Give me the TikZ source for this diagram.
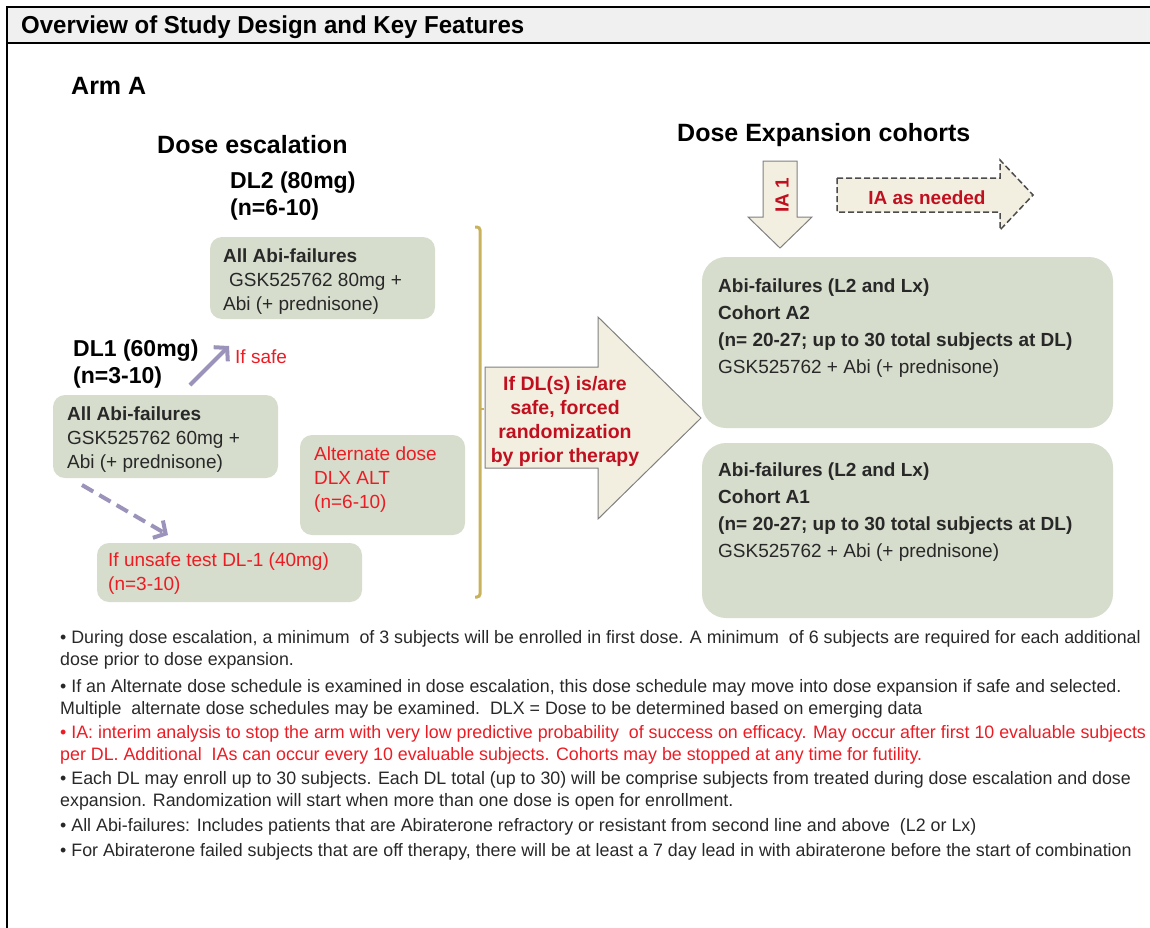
\documentclass[tikz,border=0pt]{standalone}
\usepackage{fontspec}
\setmainfont{Liberation Sans}
\newfontfamily\notefont{Liberation Sans}[FakeStretch=0.99]
\newfontfamily\titlefont{Liberation Sans}[FakeStretch=0.98]
\usetikzlibrary{arrows.meta}

\definecolor{boxgreen}{RGB}{214,221,204}
\definecolor{headgray}{RGB}{240,240,240}
\definecolor{brightred}{RGB}{235,28,36}
\definecolor{darkred}{RGB}{192,16,32}
\definecolor{arrowfill}{RGB}{243,239,224}
\definecolor{arrowline}{RGB}{128,128,128}
\definecolor{brace}{RGB}{200,178,92}
\definecolor{lilac}{RGB}{155,147,185}
\definecolor{bodytext}{RGB}{40,40,40}

\begin{document}
\begin{tikzpicture}[x=1pt,y=-1pt,
  box/.style={draw=none,fill=boxgreen,rounded corners=12pt,inner sep=0pt},
  cohort/.style={draw=none,fill=boxgreen,rounded corners=24pt,inner sep=0pt},
  txt/.style={anchor=west,inner sep=0pt,align=left,text=bodytext,font=\fontsize{19}{24}\selectfont},
  head/.style={anchor=west,inner sep=0pt,align=left,font=\fontsize{25}{30}\selectfont\bfseries},
  dl/.style={anchor=west,inner sep=0pt,align=left,font=\fontsize{23}{27}\selectfont\bfseries},
  blockarrow/.style={draw=arrowline,fill=arrowfill,line width=1pt},
  ialabel/.style={inner sep=0pt,text=darkred,font=\fontsize{19}{24}\selectfont\bfseries},
  escalate/.style={draw=lilac,line width=4pt,-{Straight Barb[length=9pt,width=20pt]}},
  note/.style={anchor=west,inner sep=0pt,align=left,text=bodytext,font=\notefont\fontsize{18}{22}\selectfont}
]
\useasboundingbox (0,0) rectangle (1150,927);

% frame and title bar
\draw[line width=2pt,fill=headgray] (7,7) rectangle (1153,43);
\draw[line width=2pt] (7,43) -- (7,930);
\node[anchor=west,inner sep=0pt,font=\titlefont\fontsize{24.5}{28}\selectfont\bfseries] (title) at (21,27) {Overview of Study Design and Key Features};

\node[anchor=west,inner sep=0pt,font=\fontsize{25}{29}\selectfont\bfseries] (arm) at (71,86) {Arm A};

% dose escalation side
\node[head] (esc) at (157,145) {Dose escalation};
\node[dl] (dltwo) at (230,196) {DL2 (80mg)\\(n=6-10)};
\node[box,minimum width=225pt,minimum height=82pt] (boxtwo) at (322.5,278) {};
\node[txt] (txttwo) at (223,281.5) {\textbf{All Abi-failures}\\\hspace{6pt}GSK525762 80mg +\\Abi (+ prednisone)};

\node[dl] (dlone) at (73,364) {DL1 (60mg)\\(n=3-10)};
\node[box,minimum width=225pt,minimum height=83pt] (boxone) at (165.5,436.5) {};
\node[txt] (txtone) at (67,439.5) {\textbf{All Abi-failures}\\GSK525762 60mg +\\Abi (+ prednisone)};

\coordinate (safe0) at (190,385);
\coordinate (safe1) at (229,346);
\draw[escalate] (safe0) -- (safe1);
\node[txt,text=brightred] (safe) at (235,357) {If safe};

\node[box,minimum width=165pt,minimum height=100pt] (boxalt) at (382.5,485) {};
\node[txt,text=brightred] (txtalt) at (314,480) {Alternate dose\\DLX ALT\\(n=6-10)};

\node[box,minimum width=265pt,minimum height=59pt] (boxunsafe) at (229.5,572.5) {};
\node[txt,text=brightred] (txtunsafe) at (108,574) {If unsafe test DL-1 (40mg)\\(n=3-10)};

\coordinate (drop0) at (82,485);
\coordinate (drop1) at (168,535);
\draw[escalate,dash pattern=on 13pt off 7pt] (drop0) -- (drop1);

% bracket
\draw[brace,line width=3pt,rounded corners=3pt] (475,227) -- (480,227) -- (480,597) -- (475,597);
\draw[brace,line width=2pt] (480,409) -- (484,409);

% randomization arrow
\draw[blockarrow] (485,367) -- (598,367) -- (598,317) -- (701,418) -- (598,519) -- (598,468) -- (485,468) -- cycle;
\node[inner sep=0pt,align=center,text=darkred,font=\fontsize{19.5}{24}\selectfont\bfseries] (rand) at (565,421) {If DL(s) is/are\\safe, forced\\randomization\\by prior therapy};

% dose expansion side
\node[head] (exp) at (677,135) {Dose Expansion cohorts};
\draw[blockarrow] (763,161) -- (797,161) -- (797,217) -- (812,217) -- (780,248) -- (748,217) -- (763,217) -- cycle;
\node[ialabel,rotate=90] (iaone) at (782,195) {IA 1};
\draw[blockarrow,draw=black!70,dash pattern=on 6pt off 3pt,line width=1.5pt] (837,178) -- (1000,178) -- (1000,160) -- (1033,195) -- (1000,230) -- (1000,212) -- (837,212) -- cycle;
\node[ialabel] (iamore) at (927,198) {IA as needed};

\node[cohort,minimum width=411pt,minimum height=171pt] (boxatwo) at (907.5,342.5) {};
\node[txt,font=\fontsize{19}{27}\selectfont] (txtatwo) at (718,328.5) {\textbf{Abi-failures (L2 and Lx)}\\\textbf{Cohort A2}\\\textbf{(n= 20-27; up to 30 total subjects at DL)}\\GSK525762 + Abi (+ prednisone)};
\node[cohort,minimum width=411pt,minimum height=175pt] (boxaone) at (907.5,530.5) {};
\node[txt,font=\fontsize{19}{27}\selectfont] (txtaone) at (718,512.5) {\textbf{Abi-failures (L2 and Lx)}\\\textbf{Cohort A1}\\\textbf{(n= 20-27; up to 30 total subjects at DL)}\\GSK525762 + Abi (+ prednisone)};

% notes
\node[note] (noteone) at (60,649.5) {• During dose escalation, a minimum\ \ of 3 subjects will be enrolled in first dose. A minimum\ \ of 6 subjects are required for each additional\\dose prior to dose expansion.};
\node[note] (notetwo) at (60,699) {• If an Alternate dose schedule is examined in dose escalation, this dose schedule may move into dose expansion if safe and selected.\\Multiple\ \ alternate dose schedules may be examined.\ \ DLX = Dose to be determined based on emerging data};
\node[note,text=brightred] (notethree) at (60,745) {• IA: interim analysis to stop the arm with very low predictive probability\ \ of success on efficacy. May occur after first 10 evaluable subjects\\per DL. Additional\ \ IAs can occur every 10 evaluable subjects. Cohorts may be stopped at any time for futility.};
\node[note] (notefour) at (60,791) {• Each DL may enroll up to 30 subjects. Each DL total (up to 30) will be comprise subjects from treated during dose escalation and dose\\expansion. Randomization will start when more than one dose is open for enrollment.};
\node[note] (notefive) at (60,827) {• All Abi-failures: Includes patients that are Abiraterone refractory or resistant from second line and above\ \ (L2 or Lx)};
\node[note] (notesix) at (60,852) {• For Abiraterone failed subjects that are off therapy, there will be at least a 7 day lead in with abiraterone before the start of combination};
\end{tikzpicture}
\end{document}
